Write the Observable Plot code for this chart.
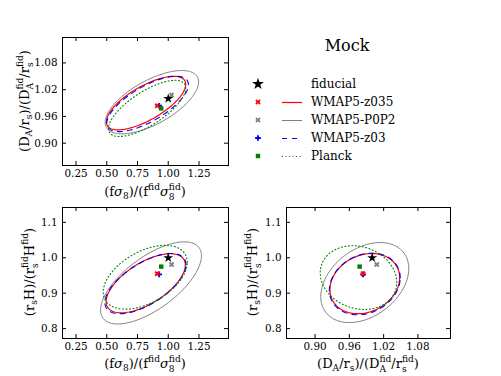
<!DOCTYPE html>
<html><head><meta charset="utf-8">
<script src="https://cdn.jsdelivr.net/npm/d3@7"></script>
<script src="https://cdn.jsdelivr.net/npm/@observablehq/plot@0.6"></script>
<style>
html,body{margin:0;padding:0;background:#fff;}
#root{position:relative;width:501px;height:376px;overflow:hidden;font-family:"DejaVu Serif",serif;background:#fff;}
#root svg{position:absolute;left:0;top:0;}
.lab{position:absolute;white-space:nowrap;font-size:13px;line-height:1;color:#000;transform:translate(-50%,-50%);font-family:"DejaVu Serif",serif;}
.lab.rot{transform:translate(-50%,-50%) rotate(-90deg);}
.lab sub,.lab sup{font-size:70%;line-height:0;position:relative;vertical-align:baseline;}
.lab sub{top:0.42em;}
.lab sup{top:-0.62em;}
.st{display:inline-flex;flex-direction:column;font-size:70%;line-height:1.05;vertical-align:0.6em;}
</style></head><body><div id="root"></div>
<script>
// ---------- data ----------
const titleText = "Mock";
const seriesNames = ["WMAP5-z035", "WMAP5-P0P2", "WMAP5-z03", "Planck"];
const seriesColors = ["#ff0000", "#808080", "#0000ff", "#008000"];
const seriesDash = ["none", "none", "5,5", "1,2.5"];
const seriesWidth = [1.2, 1.0, 1.1, 1.1];

const markerNames = ["fiducial", "WMAP5-z035", "WMAP5-P0P2", "WMAP5-z03", "Planck"];
const markerColors = ["#000000", "#ff0000", "#808080", "#0000ff", "#008000"];
const markerSymbols = ["star", "cross", "cross", "cross", "square"];
const markerRotate = [0, 45, 45, 0, 0];
const markerRadius = [3.1, 2.4, 2.4, 2.4, 2.5];
const markerFs8 = [1.000, 0.910, 1.027, 0.926, 0.943];
const markerDA  = [1.000, 0.984, 1.008, 0.984, 0.978];
const markerH   = [1.000, 0.955, 0.981, 0.953, 0.975];
const drawOrder = [3, 1, 4, 2, 0];

// contour ellipses (center, half-extent, correlation), order = seriesNames
const contA = { // x: f sigma8, y: DA/rs
  cx: [0.819, 0.867, 0.832, 0.828], cy: [0.990, 0.992, 0.988, 0.978],
  sx: [0.323, 0.380, 0.332, 0.314], sy: [0.060, 0.071, 0.062, 0.063],
  rho: [0.70, 0.64, 0.70, 0.72]
};
const contB = { // x: f sigma8, y: rs H
  cx: [0.817, 0.860, 0.815, 0.813], cy: [0.928, 0.929, 0.927, 0.945],
  sx: [0.322, 0.410, 0.330, 0.342], sy: [0.0835, 0.116, 0.085, 0.090],
  rho: [0.62, 0.66, 0.63, 0.47]
};
const contC = { // x: DA/rs, y: rs H
  cx: [0.987, 0.987, 0.987, 0.976], cy: [0.927, 0.930, 0.926, 0.944],
  sx: [0.061, 0.077, 0.062, 0.067], sy: [0.085, 0.113, 0.087, 0.090],
  rho: [0.20, 0.35, 0.20, -0.15]
};

const fs8Domain = [0.14, 1.49];
const daDomain = [0.85, 1.137];
const hDomain = [0.772, 1.142];
const fs8Ticks = [0.25, 0.50, 0.75, 1.00, 1.25];
const daTicks = [0.90, 0.96, 1.02, 1.08];
const hTicks = [0.8, 0.9, 1.0, 1.1];

const labFs8 = '(f<i>σ</i><sub>8</sub>)/(f<sup>fid</sup><i>σ</i><span class="st"><span>fid</span><span>8</span></span>)';
const labDA = '(D<sub>A</sub>/r<sub>s</sub>)/(D<span class="st"><span>fid</span><span>A</span></span>/r<span class="st"><span>fid</span><span>s</span></span>)';
const labH = '(r<sub>s</sub>H)/(r<span class="st"><span>fid</span><span>s</span></span>H<sup>fid</sup>)';

// ---------- drawing ----------
const W = 501, H = 376;
const root = document.getElementById("root");

function ellipse(cx, cy, sx, sy, rho, n = 160) {
  const c = Math.sqrt(1 - rho * rho);
  return d3.range(n).map(k => {
    const t = 2 * Math.PI * k / n;
    return {x: cx + sx * Math.cos(t), y: cy + sy * (rho * Math.cos(t) + c * Math.sin(t))};
  });
}

function panel({l, t, r, b, xDomain, yDomain, xTicks, yTicks, xFmt, yFmt, cont, mx, my}) {
  const iw = r - l, ih = b - t;
  const marks = [];
  seriesNames.forEach((s, i) => {
    marks.push(Plot.line(ellipse(cont.cx[i], cont.cy[i], cont.sx[i], cont.sy[i], cont.rho[i]), {
      x: "x", y: "y", stroke: seriesColors[i], strokeWidth: seriesWidth[i],
      strokeDasharray: seriesDash[i], curve: "linear-closed"
    }));
  });
  drawOrder.forEach(i => {
    marks.push(Plot.dot([i], {
      x: j => mx[j], y: j => my[j], symbol: markerSymbols[i], fill: markerColors[i],
      r: markerRadius[i], rotate: markerRotate[i], stroke: "none"
    }));
  });
  marks.push(
    Plot.frame({stroke: "black", strokeWidth: 1}),
    Plot.tickX(xTicks, {x: d => d, insetTop: ih - 4, stroke: "black"}),
    Plot.tickX(xTicks, {x: d => d, insetBottom: ih - 4, stroke: "black"}),
    Plot.tickY(yTicks, {y: d => d, insetRight: iw - 4, stroke: "black"}),
    Plot.tickY(yTicks, {y: d => d, insetLeft: iw - 4, stroke: "black"}),
    Plot.axisX(xTicks, {tickSize: 0, tickPadding: 4, tickFormat: d3.format(xFmt), label: null}),
    Plot.axisY(yTicks, {tickSize: 0, tickPadding: 5, tickFormat: d3.format(yFmt), label: null})
  );
  const svg = Plot.plot({
    width: W, height: H,
    marginLeft: l, marginRight: W - r, marginTop: t, marginBottom: H - b,
    x: {domain: xDomain},
    y: {domain: yDomain},
    style: {background: "transparent", fontFamily: "'DejaVu Serif', serif", fontSize: "10.4px", color: "black", overflow: "visible"},
    marks
  });
  svg.style.position = "absolute";
  svg.style.left = "0px";
  svg.style.top = "0px";
  root.appendChild(svg);
}

panel({l: 62, t: 37, r: 228, b: 165, xDomain: fs8Domain, yDomain: daDomain, xTicks: fs8Ticks, yTicks: daTicks,
  xFmt: ".2f", yFmt: ".2f", cont: contA, mx: markerFs8, my: markerDA});
panel({l: 62, t: 207, r: 228, b: 338, xDomain: fs8Domain, yDomain: hDomain, xTicks: fs8Ticks, yTicks: hTicks,
  xFmt: ".2f", yFmt: ".1f", cont: contB, mx: markerFs8, my: markerH});
panel({l: 286, t: 207, r: 450, b: 338, xDomain: daDomain, yDomain: hDomain, xTicks: daTicks, yTicks: hTicks,
  xFmt: ".2f", yFmt: ".1f", cont: contC, mx: markerDA, my: markerH});

// axis labels
function label(html, x, y, rot) {
  const d = document.createElement("div");
  d.className = "lab" + (rot ? " rot" : "");
  d.innerHTML = html;
  d.style.left = x + "px";
  d.style.top = y + "px";
  root.appendChild(d);
}
label(labFs8, 145, 193, false);
label(labDA, 26, 101, true);
label(labFs8, 145, 365, false);
label(labH, 31, 272, true);
label(labDA, 368, 365, false);
label(labH, 254, 272, true);

// title + legend
const ov = d3.select(root).append("svg").attr("width", W).attr("height", H)
  .style("position", "absolute").style("left", 0).style("top", 0)
  .attr("font-family", "'DejaVu Serif', serif");
ov.append("text").attr("x", 347).attr("y", 51).attr("text-anchor", "middle")
  .attr("font-size", 16).attr("fill", "black").text(titleText);

const symMap = {star: d3.symbolStar, cross: d3.symbolCross, square: d3.symbolSquare};
const rowY = i => 84 + 18 * i;
markerNames.forEach((name, i) => {
  const g = ov.append("g");
  const rr = markerRadius[i] * (i === 0 ? 1.2 : 1);
  g.append("path")
    .attr("d", d3.symbol(symMap[markerSymbols[i]], rr * rr * Math.PI)())
    .attr("transform", `translate(258,${rowY(i)}) rotate(${markerRotate[i]})`)
    .attr("fill", markerColors[i]);
  const si = seriesNames.indexOf(name);
  if (si >= 0) {
    g.append("line").attr("x1", 282).attr("x2", 302).attr("y1", rowY(i) + 0.5).attr("y2", rowY(i) + 0.5)
      .attr("stroke", seriesColors[si]).attr("stroke-width", seriesWidth[si])
      .attr("stroke-dasharray", seriesDash[si]);
  }
  g.append("text").attr("x", 311).attr("y", rowY(i)).attr("dy", "0.35em")
    .attr("font-size", 12).attr("fill", "black").text(name);
});
</script></body></html>
